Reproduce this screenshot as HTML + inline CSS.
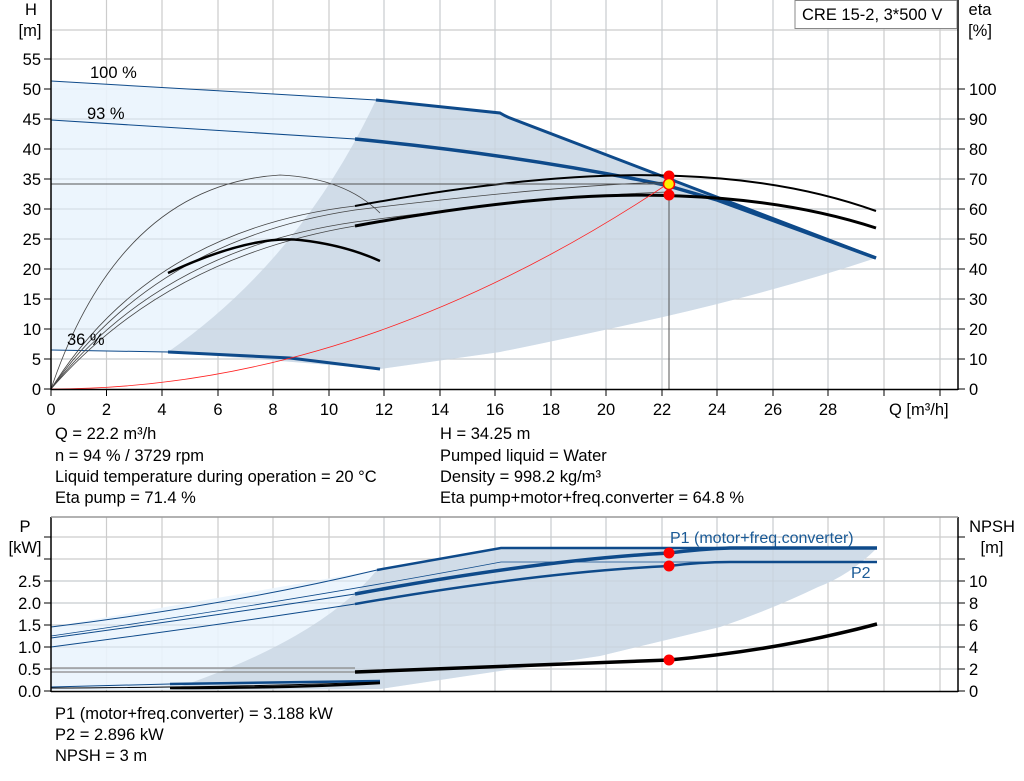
<!DOCTYPE html>
<html><head><meta charset="utf-8"><style>
html,body{margin:0;padding:0;background:#fff;}
svg{display:block;font-family:"Liberation Sans",Arial,sans-serif;}
</style></head><body>
<svg width="1024" height="781" viewBox="0 0 1024 781" xmlns="http://www.w3.org/2000/svg">
<g stroke="#cccccc" stroke-width="1.2">
<line x1="106.5" y1="0" x2="106.5" y2="389"/><line x1="162" y1="0" x2="162" y2="389"/><line x1="218" y1="0" x2="218" y2="389"/><line x1="273" y1="0" x2="273" y2="389"/><line x1="329" y1="0" x2="329" y2="389"/><line x1="384" y1="0" x2="384" y2="389"/><line x1="440" y1="0" x2="440" y2="389"/><line x1="495" y1="0" x2="495" y2="389"/><line x1="551" y1="0" x2="551" y2="389"/><line x1="606" y1="0" x2="606" y2="389"/><line x1="662" y1="0" x2="662" y2="389"/><line x1="717" y1="0" x2="717" y2="389"/><line x1="773" y1="0" x2="773" y2="389"/><line x1="828" y1="0" x2="828" y2="389"/><line x1="884" y1="0" x2="884" y2="389"/><line x1="940" y1="0" x2="940" y2="389"/>
<line x1="51" y1="359" x2="958" y2="359"/><line x1="51" y1="329" x2="958" y2="329"/><line x1="51" y1="299" x2="958" y2="299"/><line x1="51" y1="269" x2="958" y2="269"/><line x1="51" y1="239" x2="958" y2="239"/><line x1="51" y1="209" x2="958" y2="209"/><line x1="51" y1="179" x2="958" y2="179"/><line x1="51" y1="149" x2="958" y2="149"/><line x1="51" y1="119" x2="958" y2="119"/><line x1="51" y1="89" x2="958" y2="89"/><line x1="51" y1="59" x2="958" y2="59"/><line x1="51" y1="30" x2="958" y2="30"/>
</g>
<path d="M51,81 L376,100 L500,113 L876,258 Q780,290 663,317 Q560,340 500,352 L380,369 L168,352 L51,350 Z" fill="#eaf4fd" opacity="0.9"/>
<path d="M168,352 Q300,260 376,100 L500,113 L876,258 Q780,290 663,317 Q560,340 500,352 L380,369 Z" fill="#d0dce8"/>
<g stroke="#c4ccd4" stroke-width="1" opacity="0.6">
<line x1="384" y1="0" x2="384" y2="389"/><line x1="440" y1="0" x2="440" y2="389"/><line x1="495" y1="0" x2="495" y2="389"/><line x1="551" y1="0" x2="551" y2="389"/><line x1="606" y1="0" x2="606" y2="389"/><line x1="662" y1="0" x2="662" y2="389"/><line x1="717" y1="0" x2="717" y2="389"/><line x1="773" y1="0" x2="773" y2="389"/><line x1="828" y1="0" x2="828" y2="389"/>
<line x1="51" y1="359" x2="958" y2="359"/><line x1="51" y1="329" x2="958" y2="329"/><line x1="51" y1="299" x2="958" y2="299"/><line x1="51" y1="269" x2="958" y2="269"/><line x1="51" y1="239" x2="958" y2="239"/><line x1="51" y1="209" x2="958" y2="209"/><line x1="51" y1="179" x2="958" y2="179"/><line x1="51" y1="149" x2="958" y2="149"/><line x1="51" y1="119" x2="958" y2="119"/>
</g>
<g fill="none" stroke="#0e4a8a">
<path d="M51,81 L376,100" stroke-width="1"/>
<path d="M376,100 L500,113 Q505,116 510,118 L876,258" stroke-width="3"/>
<path d="M51,120 L355,139" stroke-width="1"/>
<path d="M355,139 Q520,155 665,185 L717,200 L876,258" stroke-width="3.5"/>
<path d="M51,350 L168,352" stroke-width="1"/>
<path d="M168,352 L290,358 L380,369" stroke-width="3"/>
</g>
<g fill="none" stroke="#444" stroke-width="0.8">
<path d="M51,389 Q120,185 280,175 Q345,178 380,213"/>
<path d="M51,389 Q150,230 355,206"/>
<path d="M51,389 Q155,240 355,210"/>
<path d="M51,389 Q160,250 355,222"/>
<path d="M51,389 Q165,258 355,226"/>
<path d="M355,210 Q560,185 669,182"/>
<path d="M355,222 Q560,195 669,192"/>
</g>
<g fill="none" stroke="#000">
<path d="M168,273 Q250,235 300,240 Q345,245 380,261" stroke-width="2.5"/>
<path d="M355,206 Q550,170 680,176 Q790,180 876,211" stroke-width="2"/>
<path d="M355,226 Q550,190 680,196 Q790,200 876,228" stroke-width="3"/>
</g>
<path d="M51,389 Q360,389 669,183" fill="none" stroke="#ff2020" stroke-width="0.8"/>
<line x1="51" y1="184" x2="669" y2="184" stroke="#555" stroke-width="1"/>
<line x1="669" y1="184" x2="669" y2="389" stroke="#555" stroke-width="1"/>
<circle cx="669" cy="176" r="5.5" fill="#ff0000"/>
<circle cx="669" cy="195" r="5.5" fill="#ff0000"/>
<circle cx="669" cy="184" r="5.5" fill="#ffee00" stroke="#ff0000" stroke-width="1.5"/>
<g font-size="16.5">
<text x="90" y="78">100 %</text>
<text x="87" y="119">93 %</text>
<text x="67" y="345">36 %</text>
</g>
<g stroke="#000" stroke-width="1.5">
<line x1="51" y1="0" x2="51" y2="390"/><line x1="958" y1="0" x2="958" y2="390"/><line x1="51" y1="389.5" x2="958" y2="389.5"/>
</g>
<g stroke="#000" stroke-width="1">
<line x1="44" y1="389" x2="51" y2="389"/><line x1="44" y1="359" x2="51" y2="359"/><line x1="44" y1="329" x2="51" y2="329"/><line x1="44" y1="299" x2="51" y2="299"/><line x1="44" y1="269" x2="51" y2="269"/><line x1="44" y1="239" x2="51" y2="239"/><line x1="44" y1="209" x2="51" y2="209"/><line x1="44" y1="179" x2="51" y2="179"/><line x1="44" y1="149" x2="51" y2="149"/><line x1="44" y1="119" x2="51" y2="119"/><line x1="44" y1="89" x2="51" y2="89"/><line x1="44" y1="59" x2="51" y2="59"/>
<line x1="958" y1="389" x2="965" y2="389"/><line x1="958" y1="359" x2="965" y2="359"/><line x1="958" y1="329" x2="965" y2="329"/><line x1="958" y1="299" x2="965" y2="299"/><line x1="958" y1="269" x2="965" y2="269"/><line x1="958" y1="239" x2="965" y2="239"/><line x1="958" y1="209" x2="965" y2="209"/><line x1="958" y1="179" x2="965" y2="179"/><line x1="958" y1="149" x2="965" y2="149"/><line x1="958" y1="119" x2="965" y2="119"/><line x1="958" y1="89" x2="965" y2="89"/>
<line x1="51" y1="389" x2="51" y2="396"/><line x1="106.5" y1="389" x2="106.5" y2="396"/><line x1="162" y1="389" x2="162" y2="396"/><line x1="218" y1="389" x2="218" y2="396"/><line x1="273" y1="389" x2="273" y2="396"/><line x1="329" y1="389" x2="329" y2="396"/><line x1="384" y1="389" x2="384" y2="396"/><line x1="440" y1="389" x2="440" y2="396"/><line x1="495" y1="389" x2="495" y2="396"/><line x1="551" y1="389" x2="551" y2="396"/><line x1="606" y1="389" x2="606" y2="396"/><line x1="662" y1="389" x2="662" y2="396"/><line x1="717" y1="389" x2="717" y2="396"/><line x1="773" y1="389" x2="773" y2="396"/><line x1="828" y1="389" x2="828" y2="396"/><line x1="884" y1="389" x2="884" y2="396"/><line x1="940" y1="389" x2="940" y2="396"/>
</g>
<g font-size="16.5" text-anchor="end">
<text x="41" y="395">0</text><text x="41" y="365">5</text><text x="41" y="335">10</text><text x="41" y="305">15</text><text x="41" y="275">20</text><text x="41" y="245">25</text><text x="41" y="215">30</text><text x="41" y="185">35</text><text x="41" y="155">40</text><text x="41" y="125">45</text><text x="41" y="95">50</text><text x="41" y="65">55</text>
</g>
<text x="31" y="15" font-size="16.5" text-anchor="middle">H</text>
<text x="30" y="36" font-size="16.5" text-anchor="middle">[m]</text>
<g font-size="16.5" text-anchor="start">
<text x="969" y="395">0</text><text x="969" y="365">10</text><text x="969" y="335">20</text><text x="969" y="305">30</text><text x="969" y="275">40</text><text x="969" y="245">50</text><text x="969" y="215">60</text><text x="969" y="185">70</text><text x="969" y="155">80</text><text x="969" y="125">90</text><text x="969" y="95">100</text>
</g>
<text x="980" y="15" font-size="16.5" text-anchor="middle">eta</text>
<text x="980" y="36" font-size="16.5" text-anchor="middle">[%]</text>
<g font-size="16.5" text-anchor="middle">
<text x="51" y="415">0</text><text x="106.5" y="415">2</text><text x="162" y="415">4</text><text x="218" y="415">6</text><text x="273" y="415">8</text><text x="329" y="415">10</text><text x="384" y="415">12</text><text x="440" y="415">14</text><text x="495" y="415">16</text><text x="551" y="415">18</text><text x="606" y="415">20</text><text x="662" y="415">22</text><text x="717" y="415">24</text><text x="773" y="415">26</text><text x="828" y="415">28</text>
</g>
<text x="889" y="415" font-size="16.5">Q [m³/h]</text>
<rect x="795" y="0.5" width="162" height="28" fill="#fff" stroke="#888" stroke-width="1"/>
<text x="802" y="20" font-size="16.5">CRE 15-2, 3*500 V</text>
<g font-size="16.5">
<text x="55" y="439">Q = 22.2 m³/h</text>
<text x="55" y="461">n = 94 % / 3729 rpm</text>
<text x="55" y="482">Liquid temperature during operation = 20 °C</text>
<text x="55" y="503">Eta pump = 71.4 %</text>
<text x="440" y="439">H = 34.25 m</text>
<text x="440" y="461">Pumped liquid = Water</text>
<text x="440" y="482">Density = 998.2 kg/m³</text>
<text x="440" y="503">Eta pump+motor+freq.converter = 64.8 %</text>
</g>
<!-- ===== BOTTOM CHART ===== -->
<g stroke="#cccccc" stroke-width="1.2">
<line x1="106.5" y1="517" x2="106.5" y2="691"/><line x1="162" y1="517" x2="162" y2="691"/><line x1="218" y1="517" x2="218" y2="691"/><line x1="273" y1="517" x2="273" y2="691"/><line x1="329" y1="517" x2="329" y2="691"/><line x1="384" y1="517" x2="384" y2="691"/><line x1="440" y1="517" x2="440" y2="691"/><line x1="495" y1="517" x2="495" y2="691"/><line x1="551" y1="517" x2="551" y2="691"/><line x1="606" y1="517" x2="606" y2="691"/><line x1="662" y1="517" x2="662" y2="691"/><line x1="717" y1="517" x2="717" y2="691"/><line x1="773" y1="517" x2="773" y2="691"/><line x1="828" y1="517" x2="828" y2="691"/><line x1="884" y1="517" x2="884" y2="691"/><line x1="940" y1="517" x2="940" y2="691"/>
<line x1="51" y1="669" x2="958" y2="669"/><line x1="51" y1="647" x2="958" y2="647"/><line x1="51" y1="625" x2="958" y2="625"/><line x1="51" y1="603" x2="958" y2="603"/><line x1="51" y1="581" x2="958" y2="581"/><line x1="51" y1="559" x2="958" y2="559"/><line x1="51" y1="537" x2="958" y2="537"/>
</g>
<path d="M51,627 L377,570 L501,548 L877,548 Q850,575 818,587 Q770,610 720,627 L600,656 L380,689 L170,690 L51,690 Z" fill="#eaf4fd" opacity="0.9"/>
<path d="M170,690 Q320,640 377,570 L501,548 L877,548 Q850,575 818,587 Q770,610 720,627 L600,656 L380,689 Z" fill="#d0dce8"/>
<g stroke="#c4ccd4" stroke-width="1" opacity="0.6">
<line x1="384" y1="517" x2="384" y2="691"/><line x1="440" y1="517" x2="440" y2="691"/><line x1="495" y1="517" x2="495" y2="691"/><line x1="551" y1="517" x2="551" y2="691"/><line x1="606" y1="517" x2="606" y2="691"/><line x1="662" y1="517" x2="662" y2="691"/><line x1="717" y1="517" x2="717" y2="691"/><line x1="773" y1="517" x2="773" y2="691"/>
<line x1="51" y1="669" x2="958" y2="669"/><line x1="51" y1="647" x2="958" y2="647"/><line x1="51" y1="625" x2="958" y2="625"/><line x1="51" y1="603" x2="958" y2="603"/><line x1="51" y1="581" x2="958" y2="581"/>
</g>
<g fill="none" stroke="#0e4a8a">
<path d="M51,627 Q230,605 377,570" stroke-width="1"/>
<path d="M377,570 L501,548 L877,548" stroke-width="2.5"/>
<path d="M51,636 Q300,600 501,562 L877,562" stroke-width="0.8"/>
<path d="M51,638 Q220,615 355,594" stroke-width="1"/>
<path d="M355,594 Q540,560 669,553 Q700,549 730,548 L877,548" stroke-width="3.5"/>
<path d="M51,647 Q220,625 355,604" stroke-width="1"/>
<path d="M355,604 Q540,572 669,566 Q700,562 730,562 L877,562" stroke-width="2.5"/>
<path d="M51,687 L170,684 L380,681" stroke-width="1"/>
<path d="M170,684 L380,681" stroke-width="2.5"/>
</g>
<g fill="none">
<line x1="51" y1="668" x2="355" y2="668" stroke="#888" stroke-width="1.2"/>
<line x1="51" y1="672" x2="355" y2="672" stroke="#888" stroke-width="1.2"/>
<path d="M51,688 Q250,687 380,682" stroke="#000" stroke-width="1"/>
<path d="M170,688 Q300,688 380,683" stroke="#000" stroke-width="2.5"/>
<path d="M355,672 Q560,664 669,660 Q780,650 877,624" stroke="#000" stroke-width="3.5"/>
</g>
<circle cx="669" cy="553" r="5.5" fill="#ff0000"/>
<circle cx="669" cy="566" r="5.5" fill="#ff0000"/>
<circle cx="669" cy="660" r="5.5" fill="#ff0000"/>
<text x="670" y="543" font-size="16" fill="#1a5a96">P1 (motor+freq.converter)</text>
<text x="851" y="578" font-size="16" fill="#1a5a96">P2</text>
<g stroke="#000" stroke-width="1.5">
<line x1="51" y1="517" x2="51" y2="692"/><line x1="958" y1="517" x2="958" y2="692"/><line x1="51" y1="691.5" x2="958" y2="691.5"/>
</g>
<line x1="51" y1="517" x2="958" y2="517" stroke="#999" stroke-width="1.5"/>
<g stroke="#000" stroke-width="1">
<line x1="44" y1="691" x2="51" y2="691"/><line x1="44" y1="669" x2="51" y2="669"/><line x1="44" y1="647" x2="51" y2="647"/><line x1="44" y1="625" x2="51" y2="625"/><line x1="44" y1="603" x2="51" y2="603"/><line x1="44" y1="581" x2="51" y2="581"/><line x1="44" y1="559" x2="51" y2="559"/><line x1="44" y1="537" x2="51" y2="537"/>
<line x1="958" y1="691" x2="965" y2="691"/><line x1="958" y1="669" x2="965" y2="669"/><line x1="958" y1="647" x2="965" y2="647"/><line x1="958" y1="625" x2="965" y2="625"/><line x1="958" y1="603" x2="965" y2="603"/><line x1="958" y1="581" x2="965" y2="581"/><line x1="958" y1="559" x2="965" y2="559"/><line x1="958" y1="537" x2="965" y2="537"/>
</g>
<g font-size="16.5" text-anchor="end">
<text x="41" y="697">0.0</text><text x="41" y="675">0.5</text><text x="41" y="653">1.0</text><text x="41" y="631">1.5</text><text x="41" y="609">2.0</text><text x="41" y="587">2.5</text>
</g>
<text x="25" y="532" font-size="16.5" text-anchor="middle">P</text>
<text x="25" y="553" font-size="16.5" text-anchor="middle">[kW]</text>
<g font-size="16.5" text-anchor="start">
<text x="969" y="697">0</text><text x="969" y="675">2</text><text x="969" y="653">4</text><text x="969" y="631">6</text><text x="969" y="609">8</text><text x="969" y="587">10</text>
</g>
<text x="992" y="532" font-size="16.5" text-anchor="middle">NPSH</text>
<text x="992" y="553" font-size="16.5" text-anchor="middle">[m]</text>
<g font-size="16.5">
<text x="55" y="719">P1 (motor+freq.converter) = 3.188 kW</text>
<text x="55" y="740">P2 = 2.896 kW</text>
<text x="55" y="761">NPSH = 3 m</text>
</g>
</svg>
</body></html>
